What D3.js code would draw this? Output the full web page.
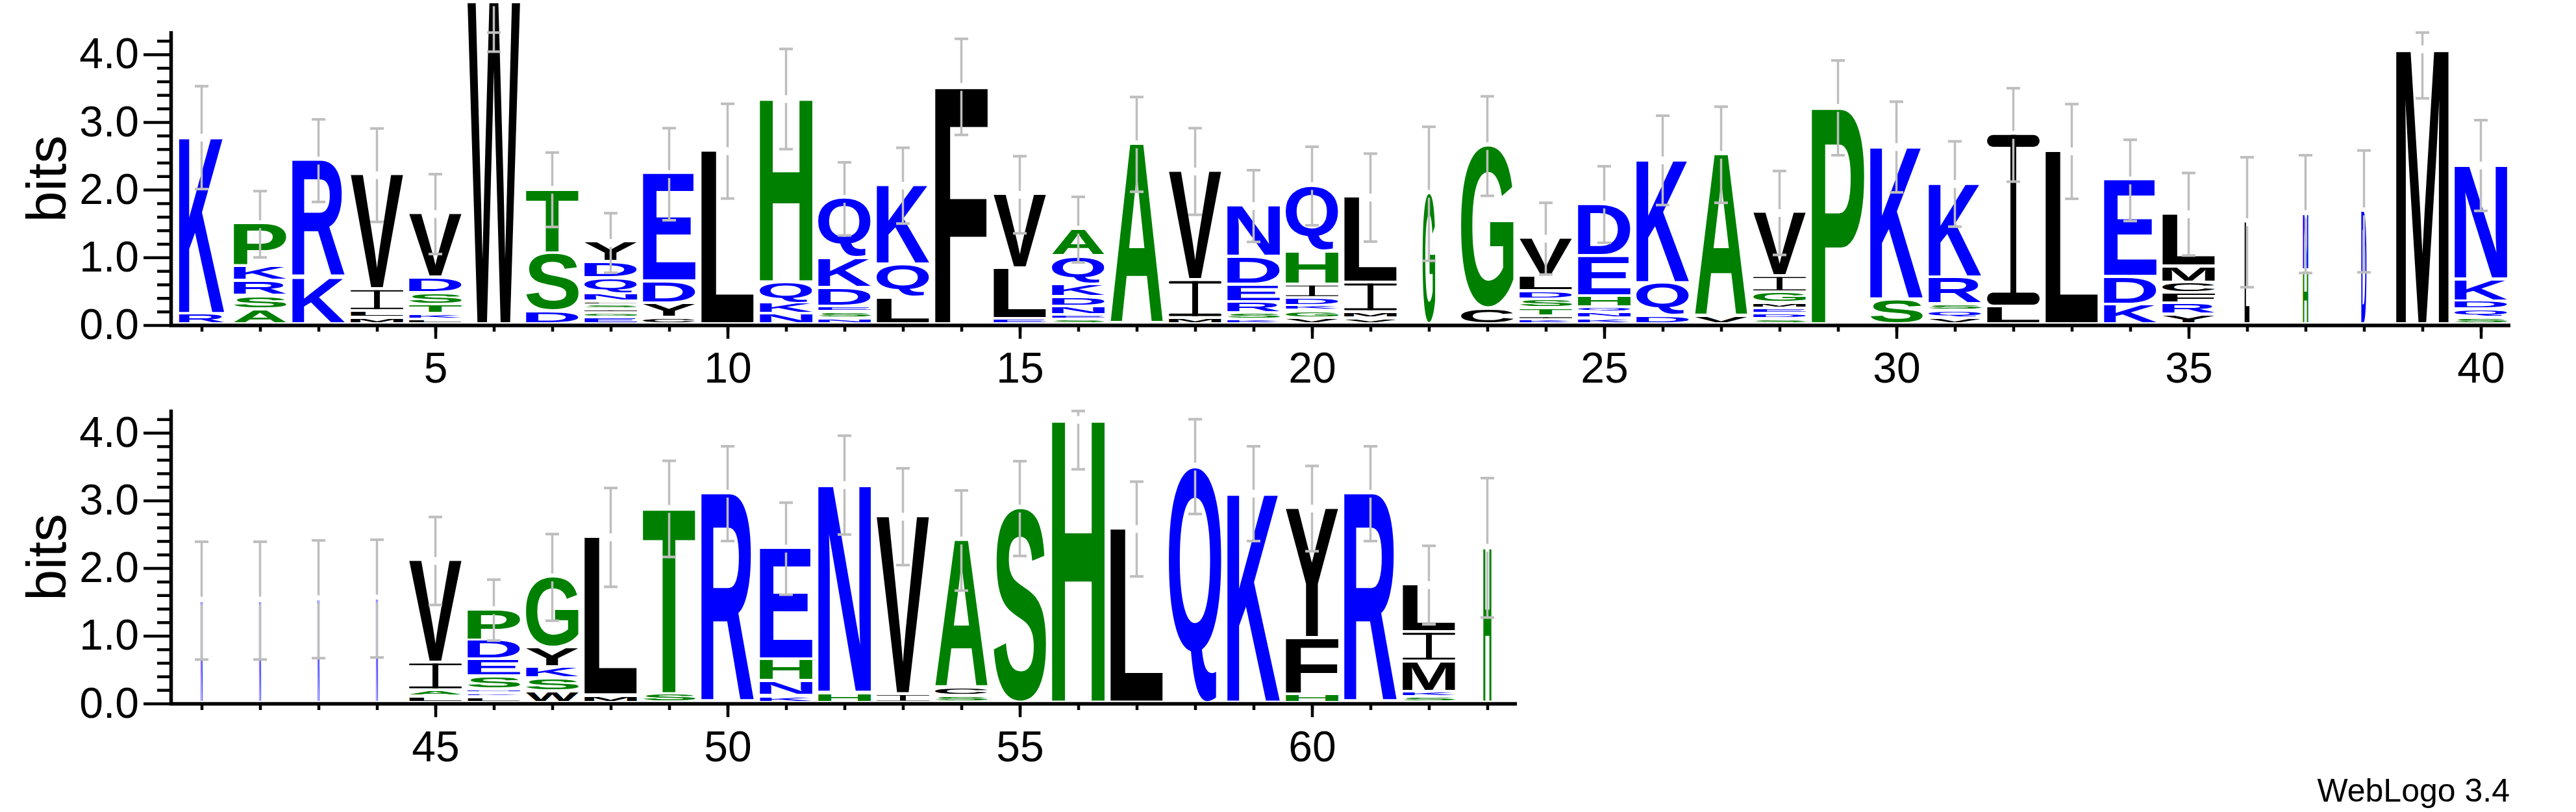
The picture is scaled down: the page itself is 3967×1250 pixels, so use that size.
<!DOCTYPE html>
<html><head><meta charset="utf-8">
<script src="https://cdn.jsdelivr.net/npm/d3@7"></script>
<style>html,body{margin:0;padding:0;background:#fff;} svg{display:block}</style>
</head><body>
<svg id="chart" width="3967" height="1250"></svg>
<script>
// ---------------- data ----------------
const positions = d3.range(1, 64);
// letters of each stack, bottom to top
const stackLetters = [
 "RK","ASRKP","KR","MLIV","LKTSDV","W","DST","EGISLNQDY","CYDE","L",
 "NKQH","NSEDKQ","LQK","F","ELV","SENDKQA","A","MIV","KSREDN","VGKDIHQ",
 "VMIL","G","CG","KITSDLV","KNQHED","DQK","VA","SDEMGIV","P","SK",
 "VQSRK","LI","L","KDE","YRFCML","L","HN","D","M","SQDKN",
 "N","N","N","N","LAIV","LKNSEDP","WSKYG","ML","ST","R",
 "KNHE","HN","IV","SCA","S","H","L","Q","K","HFY",
 "R","SKMIL","H"
];
// letter heights in bits, bottom to top
const stackHeights = [
 [0.15,2.62],[0.22,0.20,0.22,0.21,0.64],[0.69,1.74],[0.095,0.10,0.32,1.70],[0.07,0.08,0.14,0.17,0.23,0.95],
 [4.77],[0.19,0.86,0.95],[0.10,0.067,0.05,0.064,0.057,0.113,0.23,0.237,0.296],[0.095,0.215,0.32,1.60],[2.57],
 [0.15,0.16,0.31,2.72],[0.083,0.095,0.082,0.278,0.436,0.891],[0.39,0.49,1.18],[3.52],[0.076,0.754,1.096],
 [0.064,0.066,0.13,0.14,0.195,0.41,0.405],[2.67],[0.09,0.56,1.62],[0.064,0.103,0.163,0.254,0.416,0.759],[0.09,0.107,0.076,0.114,0.197,0.493,0.978],
 [0.083,0.095,0.436,1.27],[1.94],[0.235,2.41],[0.064,0.05,0.121,0.133,0.121,0.231,0.557],[0.083,0.095,0.076,0.163,0.595,0.77],
 [0.121,0.486,1.827],[0.11,2.407],[0.072,0.08,0.083,0.076,0.159,0.239,0.948],[3.21],[0.368,2.263],
 [0.09,0.107,0.095,0.398,1.395],[0.26,2.55],[2.566],[0.29,0.407,1.441],[0.14,0.163,0.159,0.152,0.239,0.785],
 [1.52],[0.80,0.84],[1.68],[4.075],[0.095,0.121,0.124,0.323,1.695],
 [1.52],[1.52],[1.54],[1.55],[0.089,0.093,0.409,1.515],
 [0.077,0.058,0.058,0.193,0.252,0.282,0.46],[0.162,0.194,0.166,0.282,1.059],[0.108,2.346],[0.124,2.751],[3.10],
 [0.097,0.22,0.321,1.65],[0.147,3.08],[0.124,2.636],[0.097,0.116,2.195],[2.88],
 [4.19],[2.578],[3.50],[3.10],[0.124,0.831,1.925],
 [3.10],[0.085,0.077,0.445,0.436,0.707],[2.30]
];
// error bar half-length in bits
const errorBits = [
 0.76,0.49,0.61,0.69,0.59,0.73,0.55,0.44,0.68,0.70,
 0.74,0.54,0.56,0.71,0.57,0.485,0.70,0.64,0.53,0.58,
 0.65,0.99,0.735,0.53,0.565,0.66,0.71,0.62,0.70,0.67,
 0.63,0.69,0.70,0.60,0.61,0.96,0.87,0.90,0.725,0.67,
 0.87,0.87,0.87,0.87,0.65,0.45,0.64,0.73,0.71,0.70,
 0.68,0.73,0.715,0.74,0.70,0.73,0.70,0.70,0.70,0.63,
 0.70,0.58,1.03
];
// fraction of full stack width
const stackWidths = positions.map(p => ({1:0.86,22:0.24,36:0.092,37:0.10,38:0.10,41:0.033,42:0.033,43:0.033,44:0.033,63:0.153})[p] || 1);
const yTickValues = [0,1,2,3,4];
const yMinorTicks = d3.range(0.2, 4.3, 0.2).filter(v => Math.abs(v - Math.round(v)) > 0.01);
const xLabelPositions = [5,10,15,20,25,30,35,40,45,50,55,60];
const rowRanges = [[1,40],[41,63]];
const rowZeros = [500.5, 1083];
const yLabel = "bits";
const footer = "WebLogo 3.4";

const colorGroups = {"#0000ff":"RKDENQ","#008000":"SGHTAP","#000000":"YVMCLFIW"};
function letterColor(ch){ for (const c in colorGroups) if (colorGroups[c].includes(ch)) return c; return "#000"; }

// ---------------- layout ----------------
const MAX_BITS = Math.log2(20);
const BIT_PX = 104.2, COL_W = 90, X_LEFT = 265.5, STACK_W = 81, LETTER_GAP = 4.5;
const FONT = '"Liberation Sans", Arial, Helvetica, sans-serif';
const ERR_COLOR = "#bebebe";

const svg = d3.select("#chart");
svg.append("rect").attr("width",3967).attr("height",1250).attr("fill","#fff");

const canvas = document.createElement("canvas");
const ctx = canvas.getContext("2d");
const GLYPH_PX = 200;
ctx.font = `bold ${GLYPH_PX}px ${FONT}`;
const metricCache = {};
function glyph(ch){
  if (!metricCache[ch]) {
    const m = ctx.measureText(ch);
    metricCache[ch] = {l:m.actualBoundingBoxLeft, r:m.actualBoundingBoxRight, a:m.actualBoundingBoxAscent, d:m.actualBoundingBoxDescent};
  }
  return metricCache[ch];
}

function drawLetter(g, ch, x0, y0, w, h){
  const col = letterColor(ch);
  if (ch === "I") {
    const t = Math.max(0.6, 0.07*h), s = Math.max(0.5, 0.11*w);
    const gi = g.append("g").attr("class","letter-I").attr("fill", col);
    gi.append("rect").attr("x",x0).attr("y",y0).attr("width",w).attr("height",t).attr("rx",Math.min(t/2,w/2));
    gi.append("rect").attr("x",x0).attr("y",y0+h-t).attr("width",w).attr("height",t).attr("rx",Math.min(t/2,w/2));
    gi.append("rect").attr("x",x0+w/2-s/2).attr("y",y0).attr("width",s).attr("height",h);
    return;
  }
  const m = glyph(ch);
  const iw = m.l + m.r, ih = m.a + m.d;
  g.append("text")
    .attr("transform", `translate(${x0},${y0}) scale(${w/iw},${h/ih}) translate(${m.l},${m.a})`)
    .attr("font-family", FONT).attr("font-weight","bold").attr("font-size", GLYPH_PX)
    .attr("fill", col).text(ch);
}

rowRanges.forEach(([first,last], r) => {
  const zero = rowZeros[r];
  const idx = d3.range(first, last+1);
  const x = d3.scaleLinear().domain([first-0.5, last+0.5]).range([X_LEFT, X_LEFT + (last-first+1)*COL_W]);
  const y = d3.scaleLinear().domain([0, MAX_BITS]).range([zero, zero - MAX_BITS*BIT_PX]);
  const g = svg.append("g").attr("class","row");

  // stacks
  const gl = g.append("g").attr("class","letters");
  idx.forEach(p => {
    const i = p-1, hs = stackHeights[i];
    const w = STACK_W*stackWidths[i], x0 = x(p) - w/2;
    let cum = 0;
    stackLetters[i].split("").forEach((ch,k) => {
      const top = y(cum + hs[k]), bot = y(cum) - LETTER_GAP;
      cum += hs[k];
      drawLetter(gl, ch, x0, top, w, Math.max(0.8, bot - top));
    });
  });

  // error bars
  const ge = g.append("g").attr("class","errorbars").attr("stroke", ERR_COLOR);
  idx.forEach(p => {
    const i = p-1, total = d3.sum(stackHeights[i]), e = errorBits[i];
    const cy = y(total), yu = y(Math.min(MAX_BITS, total+e)), yl = y(Math.max(0, total-e));
    const cx = x(p);
    if (yu < cy - 6) ge.append("line").attr("x1",cx).attr("x2",cx).attr("y1",yu).attr("y2",cy-6).attr("stroke-width",3.5);
    ge.append("line").attr("x1",cx).attr("x2",cx).attr("y1",Math.max(cy+6, 0)).attr("y2",yl).attr("stroke-width",3.5);
    [yu, yl].forEach(yy => ge.append("line").attr("x1",cx-10.5).attr("x2",cx+10.5).attr("y1",yy).attr("y2",yy).attr("stroke-width",4));
  });

  // y axis
  const yAxisG = g.append("g").attr("transform",`translate(${X_LEFT-2.5},0)`)
    .call(d3.axisLeft(y).tickValues(yTickValues).tickFormat(d3.format(".1f")).tickSize(42).tickSizeOuter(0).tickPadding(7));
  yAxisG.select(".domain").attr("stroke-width",5.5).attr("stroke-linecap","square");
  yAxisG.selectAll(".tick line").attr("stroke-width",4.5);
  yAxisG.selectAll(".tick text").attr("font-family",FONT).attr("font-size",66).attr("fill","#000");
  const yMinorG = g.append("g").attr("transform",`translate(${X_LEFT-2.5},0)`)
    .call(d3.axisLeft(y).tickValues(yMinorTicks).tickFormat("").tickSize(21).tickSizeOuter(0));
  yMinorG.select(".domain").remove();
  yMinorG.selectAll(".tick line").attr("stroke-width",4.5);

  // x axis
  const xMinorG = g.append("g").attr("transform",`translate(0,${zero})`)
    .call(d3.axisBottom(x).tickValues(idx).tickFormat("").tickSize(10).tickSizeOuter(0));
  xMinorG.select(".domain").attr("stroke-width",5.5);
  xMinorG.selectAll(".tick line").attr("stroke-width",4.5);
  const xMajorG = g.append("g").attr("transform",`translate(0,${zero})`)
    .call(d3.axisBottom(x).tickValues(xLabelPositions.filter(v => v>=first && v<=last)).tickFormat(d3.format("d")).tickSize(21).tickSizeOuter(0).tickPadding(21));
  xMajorG.select(".domain").remove();
  xMajorG.selectAll(".tick line").attr("stroke-width",4.5);
  xMajorG.selectAll(".tick text").attr("font-family",FONT).attr("font-size",66).attr("fill","#000");

  // axis title
  g.append("text").attr("transform",`translate(100.5,${(y(0)+y(MAX_BITS))/2}) rotate(-90)`)
    .attr("text-anchor","middle").attr("font-family",FONT).attr("font-size",86).attr("fill","#000").text(yLabel);
});

svg.append("text").attr("x",3865).attr("y",1234).attr("text-anchor","end")
  .attr("font-family",FONT).attr("font-size",50).attr("fill","#000").text(footer);
</script>
</body></html>
